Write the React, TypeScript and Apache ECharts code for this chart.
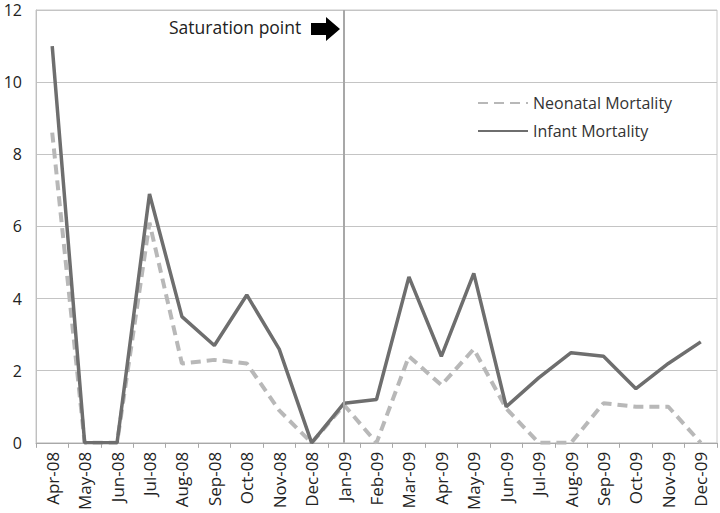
import React, { useEffect, useRef } from "react";
import * as echarts from "echarts";

const categories = [
  "Apr-08", "May-08", "Jun-08", "Jul-08", "Aug-08", "Sep-08", "Oct-08", "Nov-08", "Dec-08",
  "Jan-09", "Feb-09", "Mar-09", "Apr-09", "May-09", "Jun-09", "Jul-09", "Aug-09", "Sep-09",
  "Oct-09", "Nov-09", "Dec-09",
];
const neonatal = [8.6, 0, 0, 6.1, 2.2, 2.3, 2.2, 0.9, 0, 1.05, 0, 2.4, 1.6, 2.6, 0.95, 0, 0, 1.1, 1.0, 1.0, 0];
const infant = [11, 0, 0, 6.9, 3.5, 2.7, 4.1, 2.6, 0, 1.1, 1.2, 4.6, 2.4, 4.7, 1.0, 1.8, 2.5, 2.4, 1.5, 2.2, 2.8];
const yTicks = { min: 0, max: 12, interval: 2 };
const markerCategory = "Jan-09";
const annotation = "Saturation point";

const FONT = "'Open Sans', 'Noto Sans', sans-serif";

export default function App() {
  const ref = useRef<HTMLDivElement>(null);
  useEffect(() => {
    document.body.style.margin = "0";
    const chart = echarts.init(ref.current!, null, { renderer: "svg" });
    chart.setOption({
      animation: false,
      backgroundColor: "#ffffff",
      grid: { left: 36, right: 3, top: 10, bottom: 70, show: true, borderColor: "#c8c8c8", borderWidth: 1 },
      legend: {
        orient: "vertical",
        left: 472,
        top: 90,
        itemWidth: 50,
        itemHeight: 14,
        itemGap: 12,
        itemStyle: { opacity: 0 },
        textStyle: { fontFamily: FONT, fontSize: 16, color: "#333" },
        data: ["Neonatal Mortality", "Infant Mortality"],
      },
      xAxis: {
        type: "category",
        data: categories,
        boundaryGap: true,
        axisLine: { lineStyle: { color: "#a8a8a8", width: 1 } },
        axisTick: { show: true, length: 5, lineStyle: { color: "#a8a8a8" } },
        axisLabel: { rotate: 90, fontFamily: FONT, fontSize: 17, color: "#222", margin: 9, interval: 0 },
        splitLine: { show: false },
      },
      yAxis: {
        type: "value",
        min: yTicks.min,
        max: yTicks.max,
        interval: yTicks.interval,
        axisLine: { show: true, lineStyle: { color: "#c0c0c0" } },
        axisTick: { show: false },
        axisLabel: { fontFamily: FONT, fontSize: 16, lineHeight: 16, color: "#222", margin: 14 },
        splitLine: { lineStyle: { color: "#c4c4c4", width: 1 } },
      },
      series: [
        {
          name: "Neonatal Mortality",
          type: "line",
          data: neonatal,
          symbol: "none",
          itemStyle: { color: "#b8b8b8" },
          lineStyle: { color: "#b8b8b8", width: 4, type: [10, 6] },
          z: 2,
        },
        {
          name: "Infant Mortality",
          type: "line",
          data: infant,
          symbol: "none",
          itemStyle: { color: "#6e6e6e" },
          lineStyle: { color: "#6e6e6e", width: 3.5 },
          z: 3,
          markLine: {
            silent: true,
            symbol: "none",
            label: { show: false },
            lineStyle: { color: "#a8a8a8", width: 2, type: "solid" },
            data: [{ xAxis: markerCategory }],
          },
        },
      ],
      graphic: [
        {
          type: "text",
          left: 169,
          top: 18,
          style: { text: annotation, fontFamily: FONT, fontSize: 17.5, fill: "#222" },
        },
        {
          type: "polygon",
          shape: {
            points: [
              [311, 23], [326, 23], [326, 17], [340, 29], [326, 41], [326, 35], [311, 35],
            ],
          },
          style: { fill: "#000" },
        },
      ],
    });
    return () => chart.dispose();
  }, []);
  return <div ref={ref} style={{ position: "fixed", left: 0, top: 0, width: 720, height: 513 }} />;
}
